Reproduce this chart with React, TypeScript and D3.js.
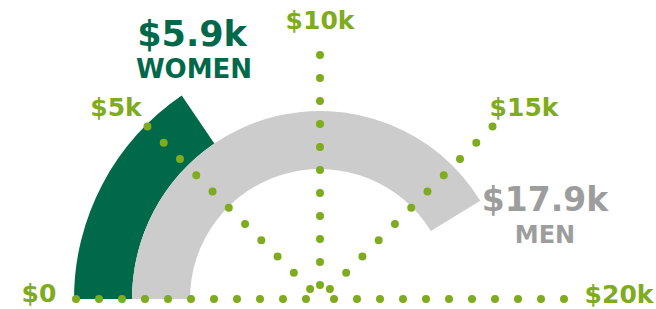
import React from "react";
import * as d3 from "d3";

// Axis ticks (thousands of dollars)
const TICK_VALUES = [0, 5, 10, 15, 20];
const TICK_LABELS = ["$0", "$5k", "$10k", "$15k", "$20k"];

// Series
const SERIES = ["WOMEN", "MEN"];
const VALUE_LABELS = ["$5.9k", "$17.9k"];
const ARC_EXTENTS = [6.2, 16.5];

const W = 656;
const H = 309;
const CX = 320;
const CY = 299;
const FONT = "'DejaVu Sans', Verdana, sans-serif";

const DARK = "#00694A";
const GREY = "#CCCCCC";
const LIME = "#7FAB1F";
const GREY_TEXT = "#9D9D9D";

export default function App() {
  const angle = d3.scaleLinear().domain([0, 20]).range([-Math.PI / 2, Math.PI / 2]);
  const bands = [
    { inner: 188, outer: 246, color: DARK },
    { inner: 130, outer: 188, color: GREY },
  ];
  const arcGen = d3.arc<any>();
  const R_LINE = 244;

  const labelPos: { x: number; y: number }[] = [
    { x: 39, y: 302 },
    { x: 116, y: 116 },
    { x: 320, y: 29 },
    { x: 524, y: 116 },
    { x: 619, y: 303 },
  ];

  return (
    <svg width={W} height={H} style={{ position: "absolute", left: 0, top: 0 }}>
      <g transform={`translate(${CX},${CY})`}>
        {SERIES.map((s, i) => (
          <path
            key={s}
            d={arcGen({
              innerRadius: bands[i].inner,
              outerRadius: bands[i].outer,
              startAngle: angle(0),
              endAngle: angle(ARC_EXTENTS[i]),
            }) as string}
            fill={bands[i].color}
          />
        ))}
        {TICK_VALUES.map((v) => {
          const a = angle(v);
          const x = R_LINE * Math.sin(a);
          const y = -R_LINE * Math.cos(a);
          return (
            <line
              key={v}
              x1={x}
              y1={y}
              x2={0}
              y2={0}
              stroke={LIME}
              strokeWidth={8}
              strokeLinecap="round"
              strokeDasharray="0 23"
            />
          );
        })}
      </g>
      {TICK_LABELS.map((t, i) => (
        <text
          key={t}
          x={labelPos[i].x}
          y={labelPos[i].y}
          textAnchor="middle"
          fontFamily={FONT}
          fontWeight="bold"
          fontSize={25}
          fill={LIME}
        >
          {t}
        </text>
      ))}
      <text x={192} y={46} textAnchor="middle" fontFamily={FONT} fontWeight="bold" fontSize={35} fill={DARK}>
        {VALUE_LABELS[0]}
      </text>
      <text x={194} y={78} textAnchor="middle" fontFamily={FONT} fontWeight="bold" fontSize={26} fill={DARK}>
        {SERIES[0]}
      </text>
      <text x={545} y={211} textAnchor="middle" fontFamily={FONT} fontWeight="bold" fontSize={33} fill={GREY_TEXT}>
        {VALUE_LABELS[1]}
      </text>
      <text x={545} y={243} textAnchor="middle" fontFamily={FONT} fontWeight="bold" fontSize={24} fill={GREY_TEXT}>
        {SERIES[1]}
      </text>
    </svg>
  );
}
